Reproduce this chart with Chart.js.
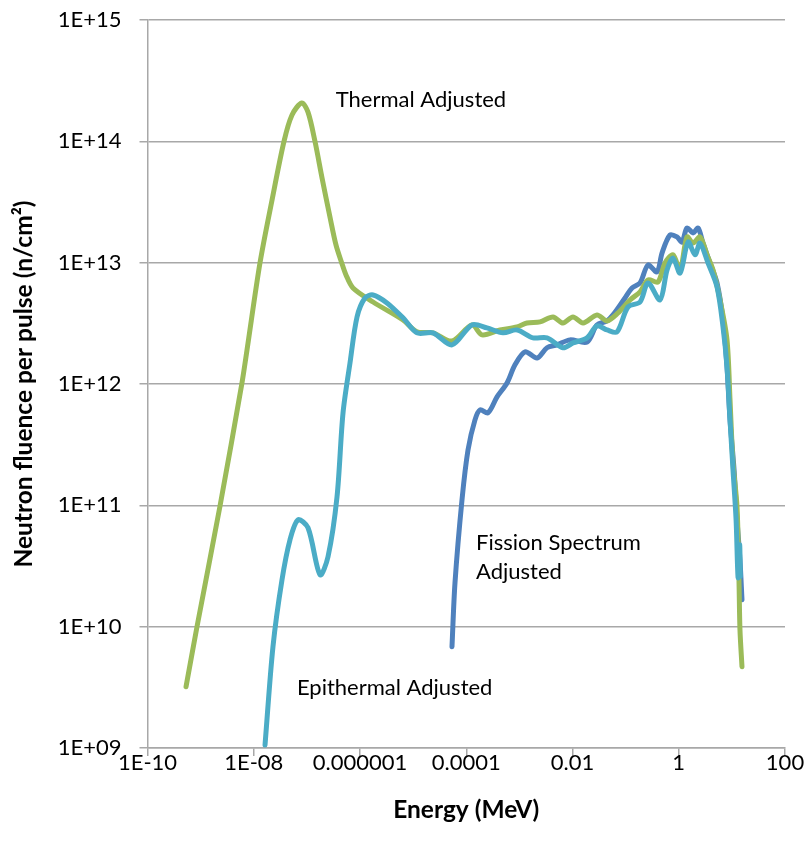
<!DOCTYPE html>
<html><head><meta charset="utf-8">
<script src="https://cdn.jsdelivr.net/npm/chart.js@4.4.0/dist/chart.umd.min.js"></script>
<style>html,body{margin:0;padding:0;background:#fff}#wrap{width:807px;height:859px}</style>
</head><body><div id="wrap"><canvas id="c" width="807" height="859"></canvas></div>
<script>
const xTickValues = [1e-10, 1e-8, 1e-6, 1e-4, 1e-2, 1, 100];
const xTickLabels = ["1E-10", "1E-08", "0.000001", "0.0001", "0.01", "1", "100"];
const yTickValues = [1e9, 1e10, 1e11, 1e12, 1e13, 1e14, 1e15];
const yTickLabels = ["1E+09", "1E+10", "1E+11", "1E+12", "1E+13", "1E+14", "1E+15"];

const thermalEnergy = [5.31e-10, 8.55e-10, 2.32e-9, 6.0e-9, 7.47e-9, 1.31e-8, 2.21e-8, 3.71e-8, 5.25e-8, 8.0e-8, 1.05e-7, 1.42e-7, 1.93e-7, 2.72e-7, 3.53e-7, 4.53e-7, 5.45e-7, 7.38e-7, 1.76e-6, 6.45e-6, 1.18e-5, 2.37e-5, 5.39e-5, 1.28e-4, 1.98e-4, 4.32e-4, 9.02e-4, 1.39e-3, 2.45e-3, 4.30e-3, 6.63e-3, 1.02e-2, 1.58e-2, 2.89e-2, 4.46e-2, 7.19e-2, 0.121, 0.187, 0.264, 0.407, 0.551, 0.780, 1.06, 1.43, 1.86, 2.51, 3.41, 4.42, 5.98, 8.10, 9.23, 10.5, 12.5, 13.6, 14.2, 15.5];
const thermalFluence = [3.2e9, 1.0e10, 9.9e10, 1.02e12, 1.91e12, 9.95e12, 3.29e13, 1.0e14, 1.65e14, 2.07e14, 1.74e14, 1.0e14, 4.99e13, 2.38e13, 1.40e13, 9.95e12, 7.92e12, 6.19e12, 4.74e12, 3.37e12, 2.69e12, 2.64e12, 2.26e12, 3.07e12, 2.54e12, 2.79e12, 2.95e12, 3.18e12, 3.25e12, 3.57e12, 3.18e12, 3.57e12, 3.18e12, 3.71e12, 3.31e12, 3.85e12, 4.93e12, 5.74e12, 7.21e12, 6.94e12, 9.95e12, 1.16e13, 8.71e12, 1.63e13, 1.45e13, 1.63e13, 1.16e13, 8.71e12, 4.93e12, 2.31e12, 7.40e11, 2.24e11, 9.72e10, 2.43e10, 9.44e9, 4.68e9];

const epithermalEnergy = [1.63e-8, 2.30e-8, 3.40e-8, 4.81e-8, 6.81e-8, 1.05e-7, 1.77e-7, 2.50e-7, 3.69e-7, 4.79e-7, 6.48e-7, 8.79e-7, 1.24e-6, 1.76e-6, 3.22e-6, 6.45e-6, 1.18e-5, 2.37e-5, 5.39e-5, 1.28e-4, 2.46e-4, 4.92e-4, 9.02e-4, 1.81e-3, 3.31e-3, 6.63e-3, 1.02e-2, 1.88e-2, 2.89e-2, 4.46e-2, 6.88e-2, 0.111, 0.187, 0.264, 0.444, 0.602, 0.780, 1.06, 1.50, 2.03, 2.51, 3.55, 5.25, 6.81, 8.10, 9.23, 10.5, 12.0, 13.1, 14.0, 14.4];
const epithermalFluence = [1.06e9, 6.84e9, 2.43e10, 5.20e10, 7.60e10, 6.53e10, 2.68e10, 3.77e10, 1.17e11, 5.78e11, 1.49e12, 3.57e12, 5.12e12, 5.42e12, 4.66e12, 3.51e12, 2.64e12, 2.64e12, 2.10e12, 3.07e12, 2.90e12, 2.64e12, 2.79e12, 2.40e12, 2.40e12, 1.99e12, 2.18e12, 2.40e12, 3.01e12, 2.79e12, 2.69e12, 4.32e12, 4.74e12, 6.81e12, 4.93e12, 8.71e12, 1.09e13, 8.22e12, 1.48e13, 1.16e13, 1.45e13, 9.95e12, 6.31e12, 2.95e12, 1.38e12, 5.06e11, 1.96e11, 7.60e10, 2.53e10, 4.73e10, 2.6e10];

const fissionEnergy = [5.39e-5, 6.14e-5, 8.32e-5, 1.08e-4, 1.46e-4, 1.82e-4, 2.57e-4, 3.80e-4, 5.86e-4, 8.27e-4, 1.28e-3, 2.15e-3, 3.31e-3, 5.11e-3, 8.99e-3, 1.88e-2, 2.89e-2, 4.46e-2, 5.79e-2, 9.74e-2, 0.132, 0.187, 0.264, 0.390, 0.484, 0.684, 0.927, 1.15, 1.43, 1.86, 2.31, 2.86, 3.87, 5.25, 6.81, 8.10, 9.23, 11.0, 12.5, 14.2, 15.5];
const fissionFluence = [6.84e9, 2.30e10, 1.11e11, 2.86e11, 5.06e11, 6.12e11, 5.78e11, 7.83e11, 1.02e12, 1.44e12, 1.84e12, 1.64e12, 1.99e12, 2.10e12, 2.31e12, 2.22e12, 3.07e12, 3.31e12, 3.71e12, 5.12e12, 6.19e12, 6.81e12, 9.57e12, 8.39e12, 1.20e13, 1.69e13, 1.63e13, 1.48e13, 1.93e13, 1.76e13, 1.93e13, 1.45e13, 9.95e12, 6.81e12, 3.37e12, 1.38e12, 5.06e11, 1.96e11, 7.60e10, 3.56e10, 1.67e10];

const seriesLabels = ["Epithermal Adjusted", "Thermal Adjusted", "Fission Spectrum Adjusted"];

// text labels anchored in data space (energy, fluence)
const annotationTexts = [["Thermal Adjusted"], ["Epithermal Adjusted"], ["Fission Spectrum", "Adjusted"]];
const annotationEnergy = [3.5e-7, 6.5e-8, 1.53e-4];
const annotationFluence = [2.19e14, 3.1e9, 4.9e10];

const FONT = "Lato";
const pts = (xs, ys) => xs.map((v, i) => ({x: v, y: ys[i]}));
const labelFor = (vals, labs, v) => {
  let best = 0, bd = Infinity;
  vals.forEach((t, i) => { const d = Math.abs(Math.log10(t) - Math.log10(v)); if (d < bd) { bd = d; best = i; } });
  return labs[best];
};

const annotationPlugin = {
  id: 'annot',
  afterDatasetsDraw(chart) {
    const {ctx, scales: {x, y}} = chart;
    ctx.save();
    ctx.font = "22px " + FONT;
    ctx.fillStyle = "#000";
    ctx.textAlign = "left";
    ctx.textBaseline = "middle";
    annotationTexts.forEach((lines, i) => {
      const px = x.getPixelForValue(annotationEnergy[i]);
      const py = y.getPixelForValue(annotationFluence[i]);
      lines.forEach((t, j) => ctx.fillText(t, px, py + j * 29));
    });
    ctx.restore();
  }
};

const gridColor = "#a8a8a8";

new Chart(document.getElementById('c'), {
  type: 'line',
  data: {
    datasets: [
      {label: seriesLabels[0], data: pts(epithermalEnergy, epithermalFluence), borderColor: '#4BACC6'},
      {label: seriesLabels[1], data: pts(thermalEnergy, thermalFluence), borderColor: '#9BBB59'},
      {label: seriesLabels[2], data: pts(fissionEnergy, fissionFluence), borderColor: '#4F81BD'}
    ]
  },
  options: {
    responsive: false, animation: false, devicePixelRatio: 1,
    layout: {padding: {left: 0, right: 22, top: 20, bottom: 0}},
    plugins: {legend: {display: false}, tooltip: {enabled: false}},
    elements: {
      point: {radius: 0, hoverRadius: 0},
      line: {borderWidth: 5, tension: 0.3, fill: false, borderCapStyle: 'round', borderJoinStyle: 'round'}
    },
    scales: {
      x: {
        type: 'logarithmic', min: 1e-10, max: 100,
        afterBuildTicks: s => { s.ticks = xTickValues.map(v => ({value: v})); },
        afterFit: s => { s.height = 111; },
        ticks: {autoSkip: false, maxRotation: 0, minRotation: 0, padding: -6, color: '#000',
          font: {family: FONT, size: 22},
          callback: v => labelFor(xTickValues, xTickLabels, v)},
        grid: {drawOnChartArea: false, drawTicks: true, tickLength: 8, color: gridColor, lineWidth: 1.5},
        border: {color: gridColor, width: 1.5},
        title: {display: true, text: 'Energy (MeV)', color: '#000', padding: 34,
          font: {family: FONT, size: 24.5, weight: 'bold'}}
      },
      y: {
        type: 'logarithmic', min: 1e9, max: 1e15,
        afterBuildTicks: s => { s.ticks = yTickValues.map(v => ({value: v})); },
        afterFit: s => { s.width = 147.5; s.paddingTop = 0; s.paddingBottom = 0; },
        ticks: {autoSkip: false, padding: 18, color: '#000',
          font: {family: FONT, size: 22},
          callback: v => labelFor(yTickValues, yTickLabels, v)},
        grid: {drawOnChartArea: true, drawTicks: true, tickLength: 8, color: gridColor, lineWidth: 1.5},
        border: {color: gridColor, width: 1.5},
        title: {display: true, text: 'Neutron fluence per pulse (n/cm²)', color: '#000', padding: 9,
          font: {family: FONT, size: 24.5, weight: 'bold'}}
      }
    }
  },
  plugins: [annotationPlugin]
});
</script>
</body></html>
